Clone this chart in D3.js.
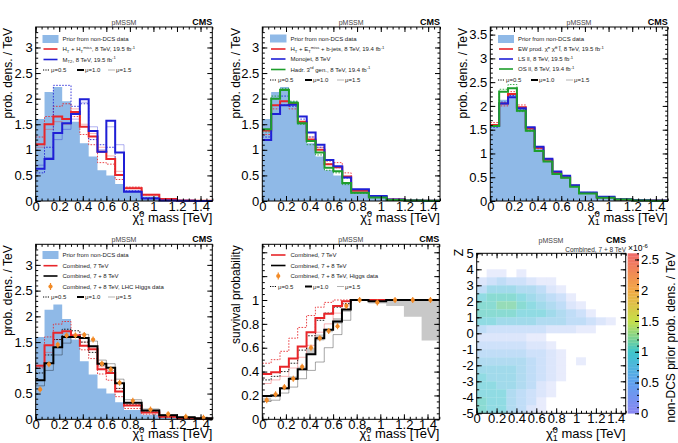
<!DOCTYPE html>
<html><head><meta charset="utf-8">
<script src="https://cdn.jsdelivr.net/npm/d3@7"></script>
<style>body{margin:0;background:#fff}svg{display:block}</style>
</head><body><svg id="c" width="678" height="443"></svg>
<script>
// ---------------- DATA ----------------
const binEdges = [0,0.075,0.15,0.225,0.3,0.375,0.45,0.525,0.6,0.675,0.75,0.9,1.05,1.2,1.35,1.5];
const priorDensity = [1.6,2.13,2.23,1.95,1.55,1.13,0.87,0.6,0.5,0.33,0.18,0.09,0.035,0.015,0.008];

// panel 1
const htNom = [1.11,1.5,1.65,1.6,1.74,1.45,1.26,0.96,0.82,0.51,0.25,0.12,0.04,0.012,0.005];
const htLo  = [1.25,1.65,1.85,1.9,1.65,1.3,1.1,0.75,0.72,0.42,0.27,0.12,0.04,0.01,0.005];
const htHi  = [1.05,1.4,1.55,1.5,1.8,1.5,1.32,1.05,0.88,0.58,0.27,0.13,0.04,0.01,0.005];
const mt2Nom = [0.63,0.82,1.33,1.52,1.7,1.99,1.37,0.96,1.57,0.95,0.18,0.05,0.012,0.004,0.002];
const mt2Lo  = [0.55,1.05,2.26,2.26,1.85,1.9,1.2,1.1,1.05,0.5,0.2,0.06,0.02,0.005,0.002];
const mt2Hi  = [0.7,0.85,1.2,1.4,1.6,1.93,1.45,1.0,1.45,1.1,0.2,0.06,0.02,0.005,0.002];
// panel 2
const bjetNom = [1.38,1.87,1.95,1.9,1.55,1.2,1.0,0.72,0.66,0.48,0.2,0.08,0.03,0.01,0.005];
const bjetLo  = [1.3,1.8,1.88,1.8,1.55,1.25,1.05,0.78,0.75,0.55,0.22,0.1,0.03,0.01,0.005];
const monoNom = [1.19,1.7,1.87,1.88,1.65,1.34,1.1,0.8,0.68,0.46,0.23,0.1,0.03,0.01,0.005];
const monoLo  = [1.25,2.0,2.05,1.85,1.6,1.25,1.05,0.72,0.65,0.45,0.22,0.1,0.03,0.01,0.005];
const thirdNom = [1.4,2.0,2.17,1.92,1.52,1.17,0.95,0.65,0.58,0.35,0.16,0.07,0.02,0.01,0.005];
const thirdLo  = [1.35,2.05,2.2,1.95,1.5,1.1,0.9,0.6,0.55,0.32,0.15,0.07,0.02,0.01,0.005];
// panel 3
const ewNom = [1.6,2.05,2.25,1.97,1.53,1.12,0.87,0.6,0.5,0.32,0.17,0.08,0.03,0.015,0.008];
const ewLo  = [1.65,2.0,2.3,2.02,1.5,1.1,0.87,0.6,0.5,0.32,0.17,0.08,0.03,0.015,0.008];
const lsNom = [1.58,2.05,2.18,1.95,1.55,1.14,0.89,0.62,0.53,0.33,0.18,0.09,0.035,0.015,0.008];
const lsLo  = [1.55,2.08,2.22,1.93,1.53,1.13,0.88,0.61,0.52,0.33,0.18,0.09,0.035,0.015,0.008];
const osNom = [1.58,2.3,2.37,1.9,1.48,1.05,0.83,0.57,0.49,0.3,0.16,0.07,0.03,0.012,0.006];
const osLo  = [1.6,2.35,2.45,1.88,1.47,1.05,0.83,0.57,0.49,0.3,0.16,0.07,0.03,0.012,0.006];
// panel 4
const comb7Nom = [1.04,1.44,1.68,1.71,1.63,1.43,1.36,0.97,0.9,0.54,0.27,0.13,0.05,0.02,0.01];
const comb7Lo  = [1.0,1.6,1.85,1.9,1.62,1.35,1.18,0.88,0.76,0.44,0.21,0.1,0.04,0.02,0.01];
const comb7Hi  = [1.05,1.3,1.55,1.62,1.65,1.5,1.4,1.02,0.95,0.6,0.3,0.14,0.05,0.02,0.01];
const comb78Nom = [0.76,1.09,1.4,1.6,1.6,1.58,1.42,1.08,1.0,0.7,0.32,0.17,0.08,0.04,0.02];
const comb78Lo  = [0.9,1.25,1.55,1.75,1.72,1.5,1.3,1.05,0.92,0.6,0.28,0.14,0.06,0.03,0.01];
const comb78Hi  = [0.65,0.95,1.25,1.48,1.62,1.65,1.52,1.15,1.08,0.78,0.38,0.2,0.09,0.04,0.02];
const higgsDensity = [0.58,1.07,1.45,1.63,1.63,1.64,1.55,1.08,0.97,0.71,0.36,0.19,0.1,0.05,0.03];
// panel 5 (survival probability)
const surv7Nom = [0.38,0.395,0.44,0.51,0.61,0.73,0.85,0.885,0.95,0.99,1,1,1,1,1];
const surv7Lo  = [0.47,0.5,0.57,0.68,0.77,0.87,0.94,0.98,1,1,1,1,1,1,1];
const surv7Hi  = [0.3,0.33,0.36,0.43,0.52,0.62,0.73,0.8,0.89,0.96,1,1,1,1,1];
const surv78Nom = [0.195,0.2,0.26,0.34,0.42,0.545,0.68,0.75,0.82,0.92,1,0.99,1,1,1];
const surv78Lo  = [0.33,0.36,0.4,0.47,0.58,0.7,0.83,0.89,0.94,0.97,1,1,1,1,1];
const surv78Hi  = [0.15,0.16,0.22,0.27,0.34,0.41,0.48,0.6,0.71,0.83,1,0.99,1,1,1];
const survHiggs = [0.16,0.21,0.27,0.34,0.44,0.6,0.68,0.74,0.78,0.95,1,0.98,1,1,1];
const survBandLo = [0.15,0.19,0.25,0.33,0.41,0.54,0.66,0.73,0.8,0.9,1,0.97,0.95,0.86,0.66];
const survBandHi = [0.18,0.21,0.27,0.36,0.44,0.6,0.71,0.76,0.85,0.93,1,1,1,1,1];
// panel 6 (2D histogram, occupancy 0-9 per cell; rows from Z=5 down to Z=-5)
const scatterXEdges = [0,0.1,0.2,0.3,0.4,0.5,0.6,0.7,0.8,0.9,1.0,1.1,1.2,1.3,1.4,1.5];
const scatterZTop = [5,4.5,4,3.5,3,2.5,2,1.5,1,0.5,0,-0.5,-1,-1.5,-2,-2.5,-3,-3.5,-4,-4.5];
const scatterOcc = [
 "000000000000000",
 "000000000000000",
 "011010000000000",
 "234332110000000",
 "466655421000000",
 "788876543100000",
 "889987654210000",
 "888877765431000",
 "776666555443210",
 "433333322211000",
 "222221100000000",
 "333332210000000",
 "444443321000000",
 "555554321010000",
 "666654321000000",
 "766654321000000",
 "776654210000000",
 "777543210000000",
 "877543100000000",
 "877542100000000"];
// ticks
const massTicks = [0,0.2,0.4,0.6,0.8,1,1.2,1.4];
const massMinor = d3.range(0,31).map(i=>i*0.05);
const densTicks = [0,0.5,1,1.5,2,2.5,3];
const densTicks3 = [0,0.5,1,1.5,2,2.5,3,3.5];
const densMinor = d3.range(0,37).map(i=>i*0.1);
const survTicks = [0,0.2,0.4,0.6,0.8,1];
const survMajorAll = [0,0.2,0.4,0.6,0.8,1,1.2,1.4];
const survMinor = d3.range(0,30).map(i=>i*0.05);
const zTicks = [-5,-4,-3,-2,-1,0,1,2,3,4,5];
const zMinor = d3.range(0,21).map(i=>-5+i*0.5);
const cbTicks = [0,0.5,1,1.5,2,2.5];
const cbMinor = d3.range(0,27).map(i=>i*0.1);

// ---------------- STYLE ----------------
const FONT = '"Liberation Sans", Arial, Helvetica, sans-serif';
const RED = "#e8262a", BLUE = "#1f1fd6", GREEN = "#1e9e2c", BLACK = "#000", ORANGE = "#f28a26";
const PRIOR = "#8fb9e7";
const svg = d3.select("#c");
const fmt = d => String(+(+d).toFixed(3));

function richText(sel, str, fs) {
  const parts = str.split(/(\^\{[^}]*\}|_\{[^}]*\})/).filter(s => s.length);
  let cur = 0;
  parts.forEach(p => {
    let off = 0, txt = p, small = false;
    if (p.startsWith("^{")) { off = -0.38; txt = p.slice(2, -1); small = true; }
    else if (p.startsWith("_{")) { off = 0.25; txt = p.slice(2, -1); small = true; }
    const ts = sel.append("tspan").text(txt).attr("dy", ((off - cur) * fs).toFixed(2));
    if (small) ts.attr("font-size", (fs * 0.7).toFixed(2));
    cur = off;
  });
}

function chiTitle(g, xr, yb) {
  const t = g.append("text").attr("x", xr).attr("y", yb).attr("text-anchor", "end")
    .attr("font-size", 13).attr("font-family", FONT);
  t.append("tspan").text("χ\u0303");
  t.append("tspan").text("0").attr("font-size", 9).attr("dy", -5);
  t.append("tspan").text("1").attr("font-size", 9).attr("dx", -5).attr("dy", 8);
  t.append("tspan").text(" mass [TeV]").attr("dy", -3);
}

function yTitle(g, xb, yTop, txt) {
  g.append("text").attr("transform", `translate(${xb},${yTop}) rotate(-90)`)
    .attr("text-anchor", "end").attr("font-size", 12).attr("font-family", FONT).text(txt);
}

function header(g, p, yb) {
  g.append("text").attr("x", (p.l + p.r) / 2).attr("y", yb).attr("text-anchor", "middle")
    .attr("font-size", 7).attr("fill", "#444").attr("font-family", FONT).text("pMSSM");
  g.append("text").attr("x", p.r).attr("y", yb).attr("text-anchor", "end")
    .attr("font-size", 9).attr("font-weight", "bold").attr("font-family", FONT).text("CMS");
}

function axes(g, x, y, p, o) {
  const st = s => s.call(a => a.select(".domain").remove())
    .attr("font-size", 13).attr("font-family", FONT)
    .call(a => a.selectAll("text").attr("fill", "#000"))
    .call(a => a.selectAll("line").attr("stroke", "#000"));
  const add = (tr, axis) => g.append("g").attr("transform", tr).call(axis).call(st);
  add(`translate(0,${p.b})`, d3.axisBottom(x).tickValues(o.xMin).tickSize(-2.5).tickFormat(""));
  add(`translate(0,${p.b})`, d3.axisBottom(x).tickValues(o.xMaj).tickSize(-5).tickPadding(0.5).tickFormat(fmt));
  add(`translate(0,${p.t})`, d3.axisTop(x).tickValues(o.xMin).tickSize(-2.5).tickFormat(""));
  add(`translate(0,${p.t})`, d3.axisTop(x).tickValues(o.xMaj).tickSize(-5).tickFormat(""));
  add(`translate(${p.l},0)`, d3.axisLeft(y).tickValues(o.yMin).tickSize(-2.5).tickFormat(""));
  add(`translate(${p.l},0)`, d3.axisLeft(y).tickValues(o.yMajAll || o.yMaj).tickSize(-5).tickFormat(""));
  add(`translate(${p.l},0)`, d3.axisLeft(y).tickValues(o.yMaj).tickSize(0).tickPadding(3).tickFormat(fmt));
  add(`translate(${p.r},0)`, d3.axisRight(y).tickValues(o.yMin).tickSize(-2.5).tickFormat(""));
  add(`translate(${p.r},0)`, d3.axisRight(y).tickValues(o.yMajAll || o.yMaj).tickSize(-5).tickFormat(""));
  g.append("rect").attr("x", p.l).attr("y", p.t).attr("width", p.r - p.l).attr("height", p.b - p.t)
    .attr("fill", "none").attr("stroke", "#000").attr("stroke-width", 1);
}

function stepPts(vals) {
  const pts = vals.map((v, i) => [binEdges[i], v]);
  pts.push([binEdges[vals.length], vals[vals.length - 1]]);
  return pts;
}

const STYLES = {
  nom: { w: 2, dash: null, op: 1 },
  lo: { w: 1, dash: "1.6,1.4", op: 0.85 },
  hi: { w: 1, dash: null, op: 0.35 }
};

function drawStep(g, x, y, vals, color, kind) {
  const s = STYLES[kind];
  const line = d3.line().x(d => x(d[0])).y(d => y(d[1])).curve(d3.curveStepAfter);
  const path = g.append("path").attr("d", line(stepPts(vals))).attr("fill", "none")
    .attr("stroke", color).attr("stroke-width", s.w).attr("stroke-opacity", s.op);
  if (s.dash) path.attr("stroke-dasharray", s.dash);
}

function drawFill(g, x, y, vals) {
  const area = d3.area().x(d => x(d[0])).y0(y(0)).y1(d => y(d[1])).curve(d3.curveStepAfter);
  g.append("path").attr("d", area(stepPts(vals))).attr("fill", PRIOR);
}

function drawPoints(g, x, y, vals) {
  const centers = vals.map((v, i) => [(binEdges[i] + binEdges[i + 1]) / 2, v]);
  g.selectAll(null).data(centers).join("line")
    .attr("x1", d => x(d[0])).attr("x2", d => x(d[0]))
    .attr("y1", d => y(d[1]) - 3).attr("y2", d => y(d[1]) + 3)
    .attr("stroke", ORANGE).attr("stroke-width", 1.2);
  g.selectAll(null).data(centers).join("circle")
    .attr("cx", d => x(d[0])).attr("cy", d => y(d[1])).attr("r", 2.1).attr("fill", ORANGE);
}

function legend(g, lx, tx, rows, muRow) {
  const fs = 6;
  rows.forEach(r => {
    if (r.type === "fill") {
      g.append("rect").attr("x", lx).attr("y", r.y - 4).attr("width", tx - lx - 4).attr("height", 8).attr("fill", PRIOR);
    } else if (r.type === "line") {
      g.append("line").attr("x1", lx + 1).attr("x2", tx - 5).attr("y1", r.y).attr("y2", r.y)
        .attr("stroke", r.color).attr("stroke-width", 1.6);
    } else if (r.type === "marker") {
      const cx = (lx + tx - 4) / 2;
      g.append("line").attr("x1", cx).attr("x2", cx).attr("y1", r.y - 3.5).attr("y2", r.y + 3.5).attr("stroke", ORANGE).attr("stroke-width", 1.2);
      g.append("circle").attr("cx", cx).attr("cy", r.y).attr("r", 2.1).attr("fill", ORANGE);
    }
    const t = g.append("text").attr("x", tx).attr("y", r.y + 2.1).attr("font-size", fs).attr("font-family", FONT).attr("fill", "#222");
    richText(t, r.text, fs);
  });
  const m = muRow;
  const items = [["lo", "μ=0.5"], ["nom", "μ=1.0"], ["hi", "μ=1.5"]];
  items.forEach((it, i) => {
    const x0 = m.xs[i];
    const s = STYLES[it[0]];
    const ln = g.append("line").attr("x1", x0).attr("x2", x0 + 7).attr("y1", m.y).attr("y2", m.y)
      .attr("stroke", "#000").attr("stroke-width", it[0] === "nom" ? 2 : 1).attr("stroke-opacity", it[0] === "hi" ? 0.3 : 1);
    if (s.dash) ln.attr("stroke-dasharray", "1.2,1.2");
    g.append("text").attr("x", x0 + 8).attr("y", m.y + 2.1).attr("font-size", fs).attr("font-family", FONT).attr("fill", "#222").text(it[1]);
  });
}

function histPanel(p) {
  const g = svg.append("g");
  const x = d3.scaleLinear().domain([0, 1.5]).range([p.l, p.r]);
  const y = d3.scaleLinear().domain([0, p.yMax]).range([p.b, p.t]);
  if (p.fill) drawFill(g, x, y, p.fill);
  if (p.band) {
    const area = d3.area().x(d => x(d[0])).y0(d => y(d[1])).y1(d => y(d[2])).curve(d3.curveStepAfter);
    const pts = p.band[0].map((v, i) => [binEdges[i], v, p.band[1][i]]);
    pts.push([binEdges[pts.length], p.band[0][pts.length - 1], p.band[1][pts.length - 1]]);
    g.append("path").attr("d", area(pts)).attr("fill", "#c8c8c8");
  }
  ["hi", "lo", "nom"].forEach(k => p.series.filter(s => s.kind === k).forEach(s => drawStep(g, x, y, s.vals, s.color, k)));
  if (p.points) drawPoints(g, x, y, p.points);
  axes(g, x, y, p, p.ax);
  header(g, p, p.t - 2.5);
  chiTitle(g, p.r, p.xtb);
  yTitle(g, p.yt, p.t + 1, p.ytitle);
  legend(g, p.lg.lx, p.lg.tx, p.lg.rows, p.lg.mu);
}

const axDens = { xMaj: massTicks, xMin: massMinor, yMaj: densTicks, yMin: densMinor.filter(v => v <= 3.4) };

histPanel({
  l: 35.7, r: 212.3, t: 27, b: 201, xtb: 221.5, yMax: 3.4, yt: 12, ytitle: "prob. dens. / TeV", fill: priorDensity, ax: axDens,
  series: [
    { vals: htHi, color: RED, kind: "hi" }, { vals: mt2Hi, color: BLUE, kind: "hi" },
    { vals: htLo, color: RED, kind: "lo" }, { vals: mt2Lo, color: BLUE, kind: "lo" },
    { vals: htNom, color: RED, kind: "nom" }, { vals: mt2Nom, color: BLUE, kind: "nom" }],
  lg: { lx: 42.5, tx: 62.5, rows: [
    { type: "fill", y: 39, text: "Prior from non-DCS data" },
    { type: "line", y: 49, color: RED, text: "H_{T} + H_{T}^{miss}, 8 TeV, 19.5 fb^{-1}" },
    { type: "line", y: 59.5, color: BLUE, text: "M_{T2}, 8 TeV, 19.5 fb^{-1}" }],
    mu: { y: 70, xs: [43, 77, 108] } }
});

histPanel({
  l: 262.3, r: 440, t: 27, b: 201, xtb: 221.5, yMax: 3.4, yt: 240, ytitle: "prob. dens. / TeV", fill: priorDensity, ax: axDens,
  series: [
    { vals: bjetLo, color: RED, kind: "lo" }, { vals: monoLo, color: BLUE, kind: "lo" }, { vals: thirdLo, color: GREEN, kind: "lo" },
    { vals: bjetNom, color: RED, kind: "nom" }, { vals: monoNom, color: BLUE, kind: "nom" }, { vals: thirdNom, color: GREEN, kind: "nom" }],
  lg: { lx: 270, tx: 290.5, rows: [
    { type: "fill", y: 38.5, text: "Prior from non-DCS data" },
    { type: "line", y: 49, color: RED, text: "H_{T} + E_{T}^{miss} + b-jets, 8 TeV, 19.4 fb^{-1}" },
    { type: "line", y: 59, color: BLUE, text: "Monojet, 8 TeV" },
    { type: "line", y: 69.5, color: GREEN, text: "Hadr. 3^{rd} gen., 8 TeV, 19.4 fb^{-1}" }],
    mu: { y: 80, xs: [270, 305, 337] } }
});

histPanel({
  l: 490.3, r: 667.7, t: 27, b: 201, xtb: 221.5, yMax: 3.66, yt: 467, ytitle: "prob. dens. / TeV", fill: priorDensity,
  ax: { xMaj: massTicks, xMin: massMinor, yMaj: densTicks3, yMin: densMinor },
  series: [
    { vals: ewLo, color: RED, kind: "lo" }, { vals: lsLo, color: BLUE, kind: "lo" }, { vals: osLo, color: GREEN, kind: "lo" },
    { vals: ewNom, color: RED, kind: "nom" }, { vals: lsNom, color: BLUE, kind: "nom" }, { vals: osNom, color: GREEN, kind: "nom" }],
  lg: { lx: 498, tx: 518, rows: [
    { type: "fill", y: 39, text: "Prior from non-DCS data" },
    { type: "line", y: 49, color: RED, text: "EW prod. χ\u0303^{±} χ\u0303^{0} l\u0303, 8 TeV, 19.5 fb^{-1}" },
    { type: "line", y: 59, color: BLUE, text: "LS ll, 8 TeV, 19.5 fb^{-1}" },
    { type: "line", y: 69, color: GREEN, text: "OS ll, 8 TeV, 19.4 fb^{-1}" }],
    mu: { y: 80, xs: [498, 531, 566] } }
});

histPanel({
  l: 35.7, r: 212.3, t: 244.3, b: 419.3, xtb: 438, yMax: 3.4, yt: 12, ytitle: "prob. dens. / TeV", fill: priorDensity, ax: axDens,
  series: [
    { vals: comb7Hi, color: RED, kind: "hi" }, { vals: comb78Hi, color: BLACK, kind: "hi" },
    { vals: comb7Lo, color: RED, kind: "lo" }, { vals: comb78Lo, color: BLACK, kind: "lo" },
    { vals: comb7Nom, color: RED, kind: "nom" }, { vals: comb78Nom, color: BLACK, kind: "nom" }],
  points: higgsDensity,
  lg: { lx: 42.5, tx: 62.5, rows: [
    { type: "fill", y: 255, text: "Prior from non-DCS data" },
    { type: "line", y: 265.7, color: RED, text: "Combined, 7 TeV" },
    { type: "line", y: 276, color: BLACK, text: "Combined, 7 + 8 TeV" },
    { type: "marker", y: 286.5, text: "Combined, 7 + 8 TeV, LHC Higgs data" }],
    mu: { y: 297, xs: [43, 77, 108] } }
});

histPanel({
  l: 262.3, r: 439.3, t: 244.3, b: 419.3, xtb: 438, yMax: 1.467, yt: 240, ytitle: "survival probability",
  ax: { xMaj: massTicks, xMin: massMinor, yMaj: survTicks, yMajAll: survMajorAll, yMin: survMinor },
  band: [survBandLo, survBandHi],
  series: [
    { vals: surv7Hi, color: RED, kind: "hi" }, { vals: surv78Hi, color: BLACK, kind: "hi" },
    { vals: surv7Lo, color: RED, kind: "lo" }, { vals: surv78Lo, color: BLACK, kind: "lo" },
    { vals: surv7Nom, color: RED, kind: "nom" }, { vals: surv78Nom, color: BLACK, kind: "nom" }],
  points: survHiggs,
  lg: { lx: 270, tx: 290.5, rows: [
    { type: "line", y: 255, color: RED, text: "Combined, 7 TeV" },
    { type: "line", y: 265.5, color: BLACK, text: "Combined, 7 + 8 TeV" },
    { type: "marker", y: 276, text: "Combined, 7 + 8 TeV, Higgs data" }],
    mu: { y: 286.5, xs: [270, 305, 337] } }
});

// ---------------- PANEL 6 ----------------
(function () {
  const p = { l: 476.7, r: 625.7, t: 253.3, b: 413.3 };
  const g = svg.append("g");
  const x = d3.scaleLinear().domain([0, 1.5]).range([p.l, p.r]);
  const y = d3.scaleLinear().domain([-5, 5]).range([p.b, p.t]);
  const cbMax = 2.6;
  const color = d3.scaleLinear().domain([0, 0.5, 1, 1.5, 2, 2.6])
    .range(["#8a86f2", "#5fa0ee", "#3ec6cc", "#c6e04a", "#f2a844", "#f06a6a"]);
  const cells = [];
  scatterOcc.forEach((row, r) => row.split("").forEach((ch, c) => {
    const occ = +ch;
    if (occ > 0) cells.push({ c, r, occ });
  }));
  g.selectAll(null).data(cells).join("rect")
    .attr("x", d => x(scatterXEdges[d.c])).attr("width", d => x(scatterXEdges[d.c + 1]) - x(scatterXEdges[d.c]))
    .attr("y", d => y(scatterZTop[d.r])).attr("height", d => y(scatterZTop[d.r] - 0.5) - y(scatterZTop[d.r]))
    .attr("fill", d => color(0.1 + d.occ * 0.12)).attr("fill-opacity", d => 0.1 + d.occ * 0.07);
  axes(g, x, y, p, { xMaj: massTicks, xMin: massMinor, yMaj: zTicks, yMin: zMinor });
  // colour bar
  const cb = { l: 627.7, r: 639, t: 253.3, b: 413.3 };
  const cy = d3.scaleLinear().domain([0, cbMax]).range([cb.b, cb.t]);
  const bands = d3.range(0, 52).map(i => i * 0.05);
  g.selectAll(null).data(bands).join("rect")
    .attr("x", cb.l).attr("width", cb.r - cb.l)
    .attr("y", d => cy(d + 0.05)).attr("height", d => cy(d) - cy(d + 0.05) + 0.3)
    .attr("fill", d => color(d + 0.025));
  const st = s => s.call(a => a.select(".domain").remove()).attr("font-size", 13).attr("font-family", FONT)
    .call(a => a.selectAll("text").attr("fill", "#000")).call(a => a.selectAll("line").attr("stroke", "#000"));
  g.append("g").attr("transform", `translate(${cb.r},0)`).call(d3.axisRight(cy).tickValues(cbMinor).tickSize(-2).tickFormat("")).call(st);
  g.append("g").attr("transform", `translate(${cb.r},0)`).call(d3.axisRight(cy).tickValues(cbTicks).tickSize(-4).tickPadding(2).tickFormat(fmt)).call(st);
  const xt = g.append("text").attr("x", 628).attr("y", 251).attr("font-size", 8.5).attr("font-family", FONT);
  richText(xt, "×10^{-6}", 8.5);
  g.append("text").attr("transform", `translate(675,252) rotate(-90)`).attr("text-anchor", "end")
    .attr("font-size", 12).attr("font-family", FONT).text("non-DCS prior prob. dens. / TeV");
  g.append("text").attr("x", 551).attr("y", 243).attr("text-anchor", "middle").attr("font-size", 7)
    .attr("fill", "#444").attr("font-family", FONT).text("pMSSM");
  g.append("text").attr("x", 626).attr("y", 243).attr("text-anchor", "end").attr("font-size", 9)
    .attr("font-weight", "bold").attr("font-family", FONT).text("CMS");
  g.append("text").attr("x", 626).attr("y", 251.5).attr("text-anchor", "end").attr("font-size", 6.5)
    .attr("fill", "#333").attr("font-family", FONT).text("Combined, 7 + 8 TeV");
  chiTitle(g, p.r, 438);
  g.append("text").attr("transform", `translate(463,249) rotate(-90)`).attr("text-anchor", "end")
    .attr("font-size", 12).attr("font-family", FONT).text("Z");
})();
</script></body></html>
